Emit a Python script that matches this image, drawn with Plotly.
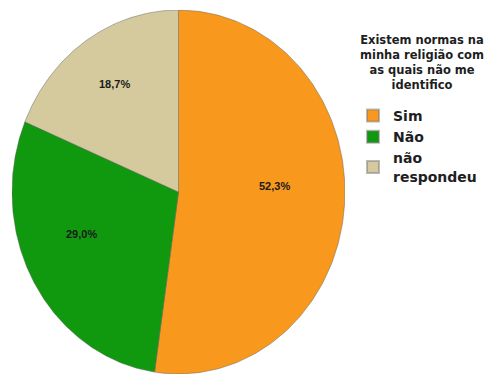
import numpy as np
import plotly.graph_objects as go

# Survey answers: "Existem normas na minha religião com as quais não me identifico"
categories = ["Sim", "Não", "não<br>respondeu"]
percentages = [52.3, 29.0, 18.7]
value_labels = ["52,3%", "29,0%", "18,7%"]
colors = ["#F8981D", "#10990F", "#D4CA9E"]

legend_title = "Existem normas na<br>minha religião com<br>as quais não me<br>identifico"

TEXT_FONT = "DejaVu Sans, Verdana, sans-serif"
LABEL_FONT = "Liberation Sans, Arial, sans-serif"

fig = go.Figure()

# Slices run clockwise from 12 o'clock; the axes are not scale-locked,
# so the pie is stretched to the plot area (slightly taller than wide).
total = sum(percentages)
start = 0.0
label_pos = []
for name, pct, col in zip(categories, percentages, colors):
    a0 = 2 * np.pi * start / total
    a1 = 2 * np.pi * (start + pct) / total
    t = np.linspace(a0, a1, 200)
    xs = np.concatenate([[0], np.sin(t), [0]])
    ys = np.concatenate([[0], np.cos(t), [0]])
    fig.add_trace(go.Scatter(
        x=xs, y=ys, mode="lines", fill="toself",
        fillcolor=col, line=dict(color="rgba(90,90,90,0.55)", width=0.8),
        name=name, hoverinfo="name", showlegend=False,
    ))
    mid = (a0 + a1) / 2
    label_pos.append((0.62 * np.sin(mid), 0.62 * np.cos(mid)))
    start += pct

# Legend entries with square swatches
for name, col in zip(categories, colors):
    fig.add_trace(go.Scatter(
        x=[None], y=[None], mode="markers", name=f"<b>{name}</b>",
        marker=dict(symbol="square", size=13, color=col,
                    line=dict(color="rgba(120,120,120,0.5)", width=0.5)),
    ))

for (lx, ly), txt in zip(label_pos, value_labels):
    fig.add_annotation(
        x=lx, y=ly, text=f"<b>{txt}</b>", showarrow=False,
        xshift=-7, yshift=14,
        font=dict(family=LABEL_FONT, size=11, color="#1a1a1a"),
    )

# Legend heading, centred above the entries
fig.add_annotation(
    xref="paper", yref="paper", x=422 / 496, y=1 - 63 / 378,
    text=f"<b>{legend_title}</b>", showarrow=False, align="center",
    xanchor="center", yanchor="middle", borderpad=0,
    font=dict(family=TEXT_FONT, size=11.5, color="#1e1e1e"),
)

fig.update_xaxes(range=[-1.0, 1.0], domain=[12 / 496, 345 / 496], visible=False)
fig.update_yaxes(range=[-1.0, 1.0], domain=[4 / 378, 1 - 10 / 378], visible=False)

fig.update_layout(
    width=496, height=378,
    margin=dict(l=0, r=0, t=0, b=0),
    paper_bgcolor="white", plot_bgcolor="white",
    showlegend=True,
    legend=dict(
        font=dict(family=TEXT_FONT, size=14, color="#1e1e1e"),
        x=353 / 496, y=1 - 100 / 378, xanchor="left", yanchor="top",
        bgcolor="rgba(0,0,0,0)", itemwidth=30, tracegroupgap=0,
        itemsizing="constant",
    ),
)

fig.write_html("out.html")
